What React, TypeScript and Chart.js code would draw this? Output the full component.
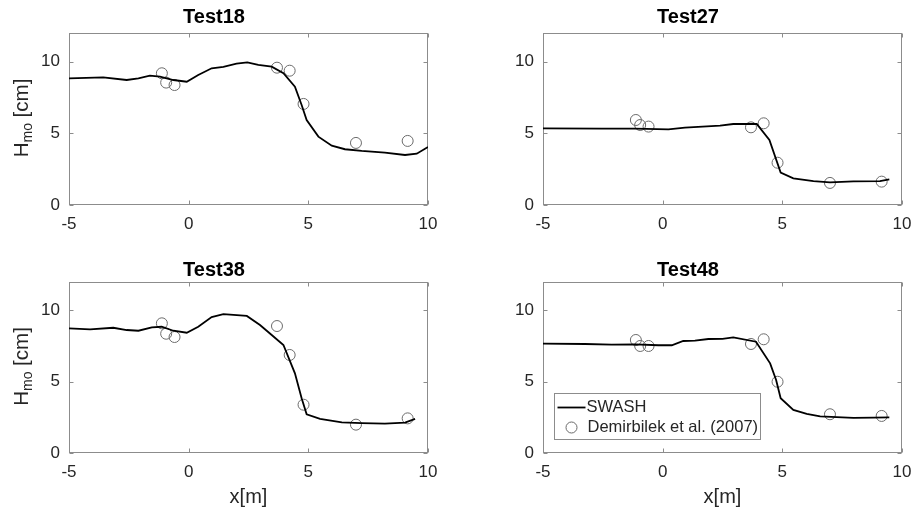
import React, { useEffect, useRef } from "react";
import { Chart, registerables } from "chart.js";

Chart.register(...registerables);

const FONT = "'Liberation Sans', Arial, Helvetica, sans-serif";
const TEXT = "#262626";
const AXIS = "#8c8c8c";
const MARKER = "#6b6b6b";

// axis ranges
const xMin = -5;
const xMax = 10;
const yMin = 0;
const yMax = 12;
const tickStep = 5;

// gauge positions of the measurements (Demirbilek et al. 2007)
const gaugeX = [-1.12, -0.94, -0.59, 3.69, 4.22, 4.8, 6.99, 9.15];

// Test18
const test18X = [-5, -3.57, -2.59, -2.1, -1.62, -1.2, -0.64, -0.08, 0.4, 0.96, 1.45, 2.0, 2.45, 2.91, 3.47, 3.96, 4.44, 4.72, 4.93, 5.42, 5.98, 6.53, 7.23, 8.2, 9.04, 9.53, 10];
const test18H = [8.84, 8.91, 8.72, 8.84, 9.02, 8.95, 8.72, 8.6, 9.07, 9.54, 9.63, 9.86, 9.95, 9.77, 9.65, 9.19, 8.26, 6.98, 5.93, 4.77, 4.14, 3.89, 3.77, 3.65, 3.49, 3.58, 4.05];
const test18Obs = [9.19, 8.54, 8.37, 9.58, 9.37, 7.05, 4.33, 4.47];

// Test27
const test27X = [-5, -2.55, -1.16, 0.24, 0.93, 2.4, 2.95, 3.93, 4.46, 4.93, 5.46, 6.3, 6.99, 7.97, 9.08, 9.47];
const test27H = [5.35, 5.33, 5.33, 5.28, 5.4, 5.54, 5.65, 5.65, 4.54, 2.26, 1.86, 1.67, 1.58, 1.65, 1.67, 1.79];
const test27Obs = [5.93, 5.58, 5.47, 5.42, 5.7, 2.95, 1.54, 1.63];

// Test38
const test38X = [-5, -4.12, -3.15, -2.59, -2.1, -1.54, -1.13, -0.64, -0.08, 0.4, 0.96, 1.45, 2.43, 2.98, 3.47, 3.96, 4.44, 4.72, 4.93, 5.49, 6.4, 7.23, 8.2, 9.04, 9.46];
const test38H = [8.75, 8.68, 8.79, 8.63, 8.58, 8.82, 8.86, 8.58, 8.44, 8.86, 9.54, 9.75, 9.62, 8.98, 8.28, 7.58, 5.59, 3.84, 2.71, 2.39, 2.15, 2.1, 2.06, 2.13, 2.39];
const test38Obs = [9.1, 8.37, 8.14, 8.91, 6.88, 3.39, 1.99, 2.43];

// Test48
const test48X = [-5, -3.25, -2.13, -1.16, -0.18, 0.38, 0.86, 1.35, 1.91, 2.5, 2.95, 3.9, 4.49, 4.74, 4.93, 5.46, 6.02, 6.58, 7.97, 8.8, 9.47];
const test48H = [7.67, 7.65, 7.6, 7.62, 7.56, 7.56, 7.86, 7.88, 8.0, 8.01, 8.12, 7.81, 6.29, 5.12, 3.84, 3.02, 2.74, 2.57, 2.46, 2.48, 2.5];
const test48Obs = [7.93, 7.51, 7.51, 7.65, 7.98, 5.0, 2.72, 2.6];

const modelLabel = "SWASH";
const obsLabel = "Demirbilek et al. (2007)";

type Panel = {
  title: string;
  lineX: number[];
  lineH: number[];
  obs: number[];
  col: number;
  row: number;
  legend: boolean;
};

const panels: Panel[] = [
  { title: "Test18", lineX: test18X, lineH: test18H, obs: test18Obs, col: 0, row: 0, legend: false },
  { title: "Test27", lineX: test27X, lineH: test27H, obs: test27Obs, col: 1, row: 0, legend: false },
  { title: "Test38", lineX: test38X, lineH: test38H, obs: test38Obs, col: 0, row: 1, legend: false },
  { title: "Test48", lineX: test48X, lineH: test48H, obs: test48Obs, col: 1, row: 1, legend: true },
];

function PanelChart({ p }: { p: Panel }) {
  const ref = useRef<HTMLCanvasElement | null>(null);
  const left = p.col === 0 ? 0 : 474;
  const top = p.row === 0 ? 0 : 249;
  const width = 440;
  const height = p.row === 0 ? 256 : 264;

  useEffect(() => {
    if (!ref.current) return;

    const boxPlugin = {
      id: "matlabBox",
      beforeDatasetsDraw(chart: any) {
        const { ctx, chartArea: a, scales } = chart;
        ctx.save();
        ctx.strokeStyle = AXIS;
        ctx.lineWidth = 1;
        const L = Math.round(a.left) + 0.5;
        const R = Math.round(a.right) - 0.5;
        const T = Math.round(a.top) + 0.5;
        const B = Math.round(a.bottom) - 0.5;
        ctx.strokeRect(L, T, R - L, B - T);
        const tl = 4;
        ctx.beginPath();
        scales.x.ticks.forEach((t: any) => {
          const px = Math.round(scales.x.getPixelForValue(t.value)) + 0.5;
          ctx.moveTo(px, B);
          ctx.lineTo(px, B - tl);
          ctx.moveTo(px, T);
          ctx.lineTo(px, T + tl);
        });
        scales.y.ticks.forEach((t: any) => {
          const py = Math.round(scales.y.getPixelForValue(t.value)) + 0.5;
          ctx.moveTo(L, py);
          ctx.lineTo(L + tl, py);
          ctx.moveTo(R, py);
          ctx.lineTo(R - tl, py);
        });
        ctx.stroke();
        ctx.restore();
      },
    };

    const yLabelPlugin = {
      id: "yLabel",
      afterDraw(chart: any) {
        if (p.col !== 0) return;
        const { ctx, chartArea: a } = chart;
        const big = 20.5;
        const small = 14;
        ctx.save();
        ctx.fillStyle = TEXT;
        ctx.textBaseline = "alphabetic";
        ctx.textAlign = "left";
        ctx.font = `${big}px ${FONT}`;
        const wH = ctx.measureText("H").width;
        const wTail = ctx.measureText(" [cm]").width;
        ctx.font = `${small}px ${FONT}`;
        const wSub = ctx.measureText("mo").width;
        const total = wH + wSub + wTail;
        ctx.translate(28, (a.top + a.bottom) / 2 - 1);
        ctx.rotate(-Math.PI / 2);
        let x = -total / 2;
        ctx.font = `${big}px ${FONT}`;
        ctx.fillText("H", x, 0);
        x += wH;
        ctx.font = `${small}px ${FONT}`;
        ctx.fillText("mo", x, 4);
        x += wSub;
        ctx.font = `${big}px ${FONT}`;
        ctx.fillText(" [cm]", x, 0);
        ctx.restore();
      },
    };

    const legendPlugin = {
      id: "legendBox",
      afterDraw(chart: any) {
        if (!p.legend) return;
        const { ctx, chartArea: a } = chart;
        const ds = chart.data.datasets;
        const fs = 16.5;
        ctx.save();
        ctx.font = `${fs}px ${FONT}`;
        const w = Math.max(ctx.measureText(ds[0].label).width, ctx.measureText(ds[1].label).width);
        const bx = Math.round(a.left) + 11.5;
        const bh = 46;
        const by = Math.round(a.bottom) - 14 - bh + 0.5;
        const bw = Math.round(32 + w + 3);
        ctx.fillStyle = "#ffffff";
        ctx.fillRect(bx, by, bw, bh);
        ctx.strokeStyle = AXIS;
        ctx.lineWidth = 1;
        ctx.strokeRect(bx, by, bw, bh);
        const r1 = by + 14;
        const r2 = by + 34;
        ctx.strokeStyle = ds[0].borderColor;
        ctx.lineWidth = ds[0].borderWidth;
        ctx.beginPath();
        ctx.moveTo(bx + 3, r1);
        ctx.lineTo(bx + 31, r1);
        ctx.stroke();
        ctx.strokeStyle = ds[1].borderColor;
        ctx.lineWidth = ds[1].borderWidth;
        ctx.beginPath();
        ctx.arc(bx + 17, r2, ds[1].pointRadius, 0, Math.PI * 2);
        ctx.stroke();
        ctx.fillStyle = TEXT;
        ctx.textBaseline = "middle";
        ctx.textAlign = "left";
        ctx.fillText(ds[0].label, bx + 32, r1);
        ctx.fillText(ds[1].label, bx + 33, r2);
        ctx.restore();
      },
    };

    const chart = new Chart(ref.current, {
      type: "scatter",
      data: {
        datasets: [
          {
            label: modelLabel,
            data: p.lineX.map((x, i) => ({ x, y: p.lineH[i] })),
            showLine: true,
            borderColor: "#000000",
            borderWidth: 1.8,
            pointRadius: 0,
            tension: 0,
            fill: false,
          },
          {
            label: obsLabel,
            data: gaugeX.map((x, i) => ({ x, y: p.obs[i] })),
            showLine: false,
            pointStyle: "circle",
            pointRadius: 5.5,
            borderColor: MARKER,
            borderWidth: 1,
            backgroundColor: "rgba(0,0,0,0)",
          },
        ],
      },
      options: {
        responsive: false,
        animation: false,
        events: [],
        layout: { padding: { left: 0, right: 12, top: 0, bottom: 0 } },
        plugins: {
          legend: { display: false },
          tooltip: { enabled: false },
          title: {
            display: true,
            text: p.title,
            color: "#000000",
            font: { family: FONT, size: 20, weight: "bold" },
            padding: p.row === 0 ? { top: 5, bottom: 4 } : { top: 9, bottom: 0 },
          },
        },
        scales: {
          x: {
            type: "linear",
            min: xMin,
            max: xMax,
            grid: { display: false, drawTicks: false },
            border: { display: false },
            ticks: {
              stepSize: tickStep,
              includeBounds: false,
              padding: 9,
              color: TEXT,
              maxRotation: 0,
              autoSkip: false,
              font: { family: FONT, size: 17 },
            },
            title: {
              display: p.row === 1,
              text: "x[m]",
              color: TEXT,
              font: { family: FONT, size: 20 },
              padding: { top: 0, bottom: 4 },
            },
            afterFit(s: any) {
              s.height = p.row === 0 ? 51 : 60;
              s.paddingLeft = 0;
              s.paddingRight = 0;
            },
          },
          y: {
            type: "linear",
            min: yMin,
            max: yMax,
            grid: { display: false, drawTicks: false },
            border: { display: false },
            ticks: {
              stepSize: tickStep,
              includeBounds: false,
              padding: 9,
              color: TEXT,
              font: { family: FONT, size: 17 },
            },
            afterFit(s: any) {
              s.width = 69;
              s.paddingTop = 0;
              s.paddingBottom = 0;
            },
          },
        },
      },
      plugins: [boxPlugin, yLabelPlugin, legendPlugin],
    } as any);

    return () => chart.destroy();
  }, [p]);

  return (
    <canvas
      ref={ref}
      width={width}
      height={height}
      style={{ position: "absolute", left, top, width, height, display: "block" }}
    />
  );
}

export default function App() {
  return (
    <div
      style={{
        position: "absolute",
        left: 0,
        top: 0,
        width: 914,
        height: 513,
        background: "#ffffff",
        overflow: "hidden",
      }}
    >
      {panels.map((p) => (
        <PanelChart key={p.title} p={p} />
      ))}
    </div>
  );
}
